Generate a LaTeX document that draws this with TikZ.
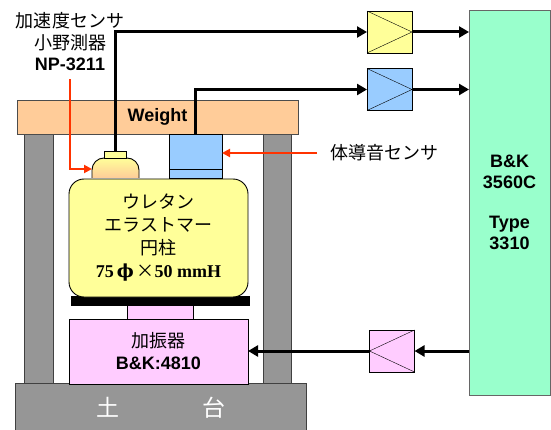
\documentclass[tikz,border=0pt]{standalone}
\usepackage{fontspec}
\setmainfont{Liberation Sans}
\newfontfamily\jp{Noto Sans CJK JP}
\newfontfamily\numfont{Liberation Serif}
\newfontfamily\phifont{DejaVu Serif}
\usetikzlibrary{arrows.meta,positioning}

\definecolor{weightbg}{HTML}{FFCC99}
\definecolor{framegray}{HTML}{969696}
\definecolor{urethane}{HTML}{FFFF99}
\definecolor{sensorblue}{HTML}{99CCFF}
\definecolor{shakerpink}{HTML}{FFCCFF}
\definecolor{analyzer}{HTML}{99FFCC}
\definecolor{pointer}{HTML}{FF3300}

\begin{document}
\begin{tikzpicture}[
  x=1pt, y=-1pt,
  box/.style={draw, line width=0.9pt, inner sep=0pt, outer sep=0pt, align=center,
    font=\fontsize{18}{21}\selectfont},
  column/.style={box, draw=black!75, fill=framegray},
  amp/.style={box, minimum width=45pt, minimum height=42pt},
  cable/.style={line width=3pt, -{Triangle[length=10pt,width=11pt]}},
  redarrow/.style={pointer, line width=2pt, -{Triangle[length=8pt,width=8pt]}},
  label/.style={inner sep=0pt, align=center, font=\fontsize{18}{21.5}\selectfont}
]
\useasboundingbox (0,0) rectangle (551,430);

% frame: columns, base and weight
\node[column, minimum width=29pt, minimum height=249pt] (colL) at (38.5,258.5) {};
\node[column, minimum width=28pt, minimum height=249pt] (colR) at (277,258.5) {};
\node[column, minimum width=291pt, minimum height=49pt, text=white,
  font=\fontsize{23}{24}\selectfont] (base) at (160.5,407.5)
  {\jp 土\hspace{83pt}台};
\node[box, draw=black!70, fill=weightbg, minimum width=281pt, minimum height=34pt,
  font=\fontsize{18}{21}\selectfont\bfseries] (weight) at (157.5,117) {Weight};

% shaker with armature and table plate
\node[box, fill=shakerpink, minimum width=179pt, minimum height=65pt,
  font=\fontsize{18}{22}\selectfont\bfseries] (shaker) at (158.5,351.5)
  {\jp\mdseries 加振器\\B\&K:4810};
\node[box, fill=shakerpink, minimum width=66pt, minimum height=14pt] (armature) at (160,312) {};
\node[box, fill=black, minimum width=178pt, minimum height=9pt] (plate) at (160,300.5) {};

% urethane specimen
\node[box, fill=urethane, rounded corners=15pt, minimum width=179pt, minimum height=118pt,
  font=\fontsize{18}{23}\selectfont] (specimen) at (158.5,238)
  {\jp ウレタン\\\jp エラストマー\\\jp 円柱\\
   {\numfont\bfseries 75\,}{\phifont\bfseries ϕ}\,{\jp ×}{\numfont\bfseries 50 mmH}};

% accelerometer
\path[draw, line width=0.9pt, top color=urethane, middle color=urethane, bottom color=weightbg,
  rounded corners=12pt] (92,178) -- (92,158) -- (139,158) -- (139,178);
\coordinate (domeW) at (92,169);
\node[box, fill=urethane, minimum width=22pt, minimum height=7pt] (cap) at (115,154.5) {};

% body-conducted sound sensor
\node[box, fill=sensorblue, minimum width=53pt, minimum height=44pt] (bcs) at (195.5,156) {};
\draw[line width=0.9pt] (bcs.west |- 0,169) -- (bcs.east |- 0,169);

% amplifiers and analyzer
\node[amp, fill=urethane] (ampY) at (389.5,32) {};
\node[amp, fill=sensorblue] (ampB) at (389.5,89.5) {};
\node[amp, fill=shakerpink] (ampP) at (392,351) {};
\draw (ampY.north west) -- (ampY.east) -- (ampY.south west);
\draw (ampB.north west) -- (ampB.east) -- (ampB.south west);
\draw (ampP.north east) -- (ampP.west) -- (ampP.south east);
\node[box, draw=black!60, fill=analyzer, minimum width=81pt, minimum height=385pt,
  font=\fontsize{18}{20.5}\selectfont\bfseries] (bk) at (509.5,202.5)
  {B\&K\\3560C\\[20pt]Type\\3310};

% labels
\node[label] (accLabel) at (70,42)
  {\jp 加速度センサ\\\jp 小野測器\\\bfseries NP-3211};
\node[label, anchor=west] (bcsLabel) at (330,153) {\jp 体導音センサ};

% signal cables
\draw[cable] (cap.north) |- (ampY.west);
\draw[cable] (bcs.north) |- (ampB.west);
\draw[cable] (ampY.east) -- (ampY.east -| bk.west);
\draw[cable] (ampB.east) -- (ampB.east -| bk.west);
\draw[cable] (bk.west |- ampP.east) -- (ampP.east);
\draw[cable] (ampP.west) -- (ampP.west -| shaker.east);

% pointers
\draw[redarrow, shorten <=8pt] (accLabel.south) |- (domeW);
\draw[redarrow, shorten <=13pt] (bcsLabel.west) -- (bcsLabel.west -| bcs.east);
\end{tikzpicture}
\end{document}
